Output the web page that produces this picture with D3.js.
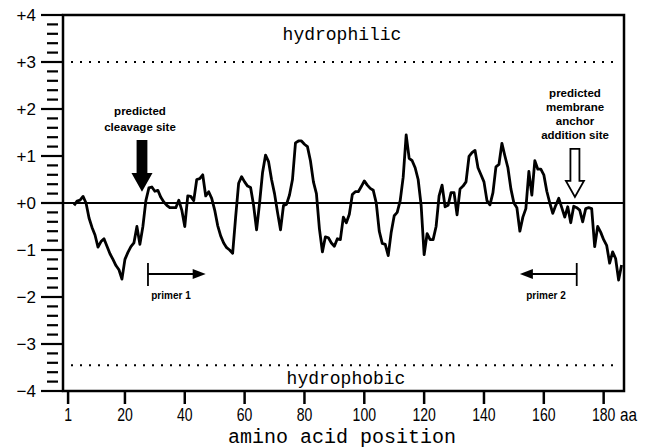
<!DOCTYPE html>
<html>
<head>
<meta charset="utf-8">
<script src="https://cdn.jsdelivr.net/npm/d3@7"></script>
<style>
  html, body { margin: 0; padding: 0; background: #fff; }
  svg { display: block; }
</style>
</head>
<body>
<div id="chart"></div>
<script>
// Hydropathy profile, amino acid 3..186

const positions = d3.range(3, 187);
const hydropathy = [
  -0.05, 0.04, 0.06, 0.14, 0.0, -0.32, -0.52, -0.68, -0.94,            // 3-11
  -0.82, -0.76, -0.92, -1.08, -1.2, -1.33, -1.42, -1.62, -1.2, -1.05,  // 12-21
  -0.93, -0.85, -0.5, -0.88, -0.5, 0.05, 0.32, 0.34, 0.25, 0.27,       // 22-31
  0.12, 0.02, -0.05, -0.1, -0.1, -0.1, 0.06, -0.15, -0.5, 0.15,        // 32-41
  0.14, 0.05, 0.5, 0.52, 0.6, 0.15, 0.24, 0.1, -0.15, -0.48,           // 42-51
  -0.7, -0.85, -0.95, -1.0, -1.07, -0.3, 0.42, 0.56, 0.45, 0.36,       // 52-61
  0.33, -0.05, -0.57, 0.0, 0.65, 1.02, 0.88, 0.5, 0.2, -0.2,           // 62-71
  -0.57, -0.05, -0.03, 0.17, 0.5, 1.28, 1.32, 1.32, 1.25, 1.2,         // 72-81
  0.9, 0.45, 0.2, -0.55, -1.04, -0.72, -0.74, -0.85, -0.92, -0.76,     // 82-91
  -0.78, -0.3, -0.42, -0.24, 0.18, 0.24, 0.24, 0.35, 0.47, 0.38,       // 92-101
  0.31, 0.27, 0.0, -0.6, -0.86, -0.88, -1.12, -0.62, -0.27, -0.2,      // 102-111
  0.05, 0.55, 1.45, 0.95, 0.9, 0.75, 0.5, -0.05, -1.1, -0.65,          // 112-121
  -0.78, -0.78, -0.5, 0.15, 0.38, -0.08, -0.05, 0.22, 0.22, -0.25,     // 122-131
  0.3, 0.36, 0.45, 0.99, 1.07, 1.12, 0.75, 0.6, 0.45, 0.05,            // 132-141
  -0.04, 0.22, 0.77, 0.82, 1.27, 1.0, 0.75, 0.3, 0.0, -0.1,            // 142-151
  -0.6, -0.3, -0.12, 0.67, 0.17, 0.9, 0.72, 0.72, 0.6, 0.25,           // 152-161
  0.0, -0.22, -0.05, 0.1, -0.1, -0.3, -0.08, -0.42, -0.07, -0.1,       // 162-171
  -0.15, -0.4, -0.12, -0.1, -0.12, -0.93, -0.5, -0.62, -0.78, -0.9,    // 172-181
  -1.28, -1.04, -1.18, -1.64, -1.32                                     // 182-186
];

const xTicks = [1, 20, 40, 60, 80, 100, 120, 140, 160, 180];
const yTicks = [4, 3, 2, 1, 0, -1, -2, -3, -4];
const yTickLabels = ["+4", "+3", "+2", "+1", "+0", "\u22121", "\u22122", "\u22123", "\u22124"];

const width = 657, height = 448;
const frame = { left: 63, right: 624, top: 15, bottom: 391 };

const svg = d3.select("#chart").append("svg")
  .attr("width", width)
  .attr("height", height);

const x = d3.scaleLinear().domain([-0.7, 186.8]).range([frame.left, frame.right]);
const y = d3.scaleLinear().domain([-4, 4]).range([frame.bottom, frame.top]);

const sans = "'Liberation Sans', Arial, Helvetica, sans-serif";
const mono = "'Liberation Mono', 'Courier New', monospace";

// dotted limits
[3, -3.45].forEach(v => {
  svg.append("line")
    .attr("x1", frame.left + 8).attr("x2", frame.right - 4)
    .attr("y1", y(v)).attr("y2", y(v))
    .attr("stroke", "#000")
    .attr("stroke-width", 2)
    .attr("stroke-dasharray", "2 7");
});

// zero line
svg.append("line")
  .attr("x1", frame.left).attr("x2", frame.right)
  .attr("y1", y(0)).attr("y2", y(0))
  .attr("stroke", "#000").attr("stroke-width", 2);

// profile
const line = d3.line()
  .x((d, i) => x(positions[i]))
  .y(d => y(d));

svg.append("path")
  .datum(hydropathy)
  .attr("d", line)
  .attr("fill", "none")
  .attr("stroke", "#000")
  .attr("stroke-width", 2.8)
  .attr("stroke-linejoin", "round");

// frame
svg.append("rect")
  .attr("x", frame.left).attr("y", frame.top)
  .attr("width", frame.right - frame.left)
  .attr("height", frame.bottom - frame.top)
  .attr("fill", "none")
  .attr("stroke", "#000")
  .attr("stroke-width", 2.5);

// y ticks
const minor = d3.range(-40, 41, 2).map(d => d / 10).filter(d => Math.abs(d - Math.round(d)) > 1e-6);
svg.append("g").selectAll("line")
  .data(minor)
  .join("line")
  .attr("x1", 47).attr("x2", 58)
  .attr("y1", d => y(d)).attr("y2", d => y(d))
  .attr("stroke", "#000").attr("stroke-width", 2.2);

svg.append("g").selectAll("line")
  .data(yTicks)
  .join("line")
  .attr("x1", 41).attr("x2", frame.left)
  .attr("y1", d => y(d)).attr("y2", d => y(d))
  .attr("stroke", "#000").attr("stroke-width", 2.2);

svg.append("g").selectAll("text")
  .data(yTicks)
  .join("text")
  .attr("x", 36)
  .attr("y", d => y(d) + 6)
  .attr("text-anchor", "end")
  .attr("font-family", sans)
  .attr("font-size", 17)
  .text((d, i) => yTickLabels[i]);

// x ticks
svg.append("g").selectAll("line")
  .data(xTicks)
  .join("line")
  .attr("x1", d => x(d)).attr("x2", d => x(d))
  .attr("y1", frame.bottom).attr("y2", frame.bottom + 13)
  .attr("stroke", "#000").attr("stroke-width", 2.5);

// condensed digits, as in the original
svg.append("g").selectAll("text")
  .data(xTicks)
  .join("text")
  .attr("transform", d => `translate(${x(d)},421) scale(0.78,1)`)
  .attr("text-anchor", "middle")
  .attr("font-family", sans)
  .attr("font-size", 18)
  .text(d => d);

svg.append("text")
  .attr("transform", "translate(620,421) scale(0.85,1)")
  .attr("font-family", sans)
  .attr("font-size", 18)
  .text("aa");

svg.append("text")
  .attr("x", 342).attr("y", 443)
  .attr("text-anchor", "middle")
  .attr("font-family", mono)
  .attr("font-size", 20)
  .text("amino acid position");

// region labels
svg.append("text")
  .attr("x", 342).attr("y", 40)
  .attr("text-anchor", "middle")
  .attr("font-family", mono).attr("font-size", 18)
  .text("hydrophilic");

svg.append("text")
  .attr("x", 346).attr("y", 384)
  .attr("text-anchor", "middle")
  .attr("font-family", mono).attr("font-size", 18)
  .text("hydrophobic");

// annotations
function multiline(cx, baseline, lines, step) {
  svg.append("g").selectAll("text")
    .data(lines)
    .join("text")
    .attr("x", cx)
    .attr("y", (d, i) => baseline + i * step)
    .attr("text-anchor", "middle")
    .attr("font-family", sans)
    .attr("font-weight", "bold")
    .attr("font-size", 11.5)
    .text(d => d);
}

multiline(140, 115, ["predicted", "cleavage site"], 16);
multiline(575, 97, ["predicted", "membrane", "anchor", "addition site"], 14);

// down arrows: tip at (aa, value)
function downArrow(aa, tipVal, topVal, fill) {
  const cx = x(aa), tip = y(tipVal), top = y(topVal);
  const headH = 16, headW = 9, shaftW = 4.5;
  const pts = [
    [cx - shaftW, top], [cx + shaftW, top], [cx + shaftW, tip - headH],
    [cx + headW, tip - headH], [cx, tip], [cx - headW, tip - headH],
    [cx - shaftW, tip - headH]
  ];
  svg.append("path")
    .attr("d", d3.line()(pts) + "Z")
    .attr("fill", fill)
    .attr("stroke", "#000")
    .attr("stroke-width", 1.8)
    .attr("stroke-linejoin", "miter");
}

downArrow(25.7, 0.28, 1.32, "#000");
downArrow(170.4, 0.13, 1.15, "#fff");

// primers
function primer(aa, toAa, label, labelX) {
  const x0 = x(aa), x1 = x(toAa), yy = 274;
  const dir = Math.sign(x1 - x0);
  svg.append("line")
    .attr("x1", x0).attr("x2", x0)
    .attr("y1", yy - 11).attr("y2", yy + 12)
    .attr("stroke", "#000").attr("stroke-width", 1.8);
  svg.append("line")
    .attr("x1", x0).attr("x2", x1 - dir * 10)
    .attr("y1", yy).attr("y2", yy)
    .attr("stroke", "#000").attr("stroke-width", 1.8);
  svg.append("path")
    .attr("d", d3.line()([[x1, yy], [x1 - dir * 13, yy - 5], [x1 - dir * 13, yy + 5]]) + "Z")
    .attr("fill", "#000");
  svg.append("text")
    .attr("x", labelX).attr("y", 299)
    .attr("text-anchor", "middle")
    .attr("font-family", sans)
    .attr("font-weight", "bold")
    .attr("font-size", 10)
    .text(label);
}

primer(27.7, 47, "primer 1", 171);
primer(171, 152, "primer 2", 546);
</script>
</body>
</html>
